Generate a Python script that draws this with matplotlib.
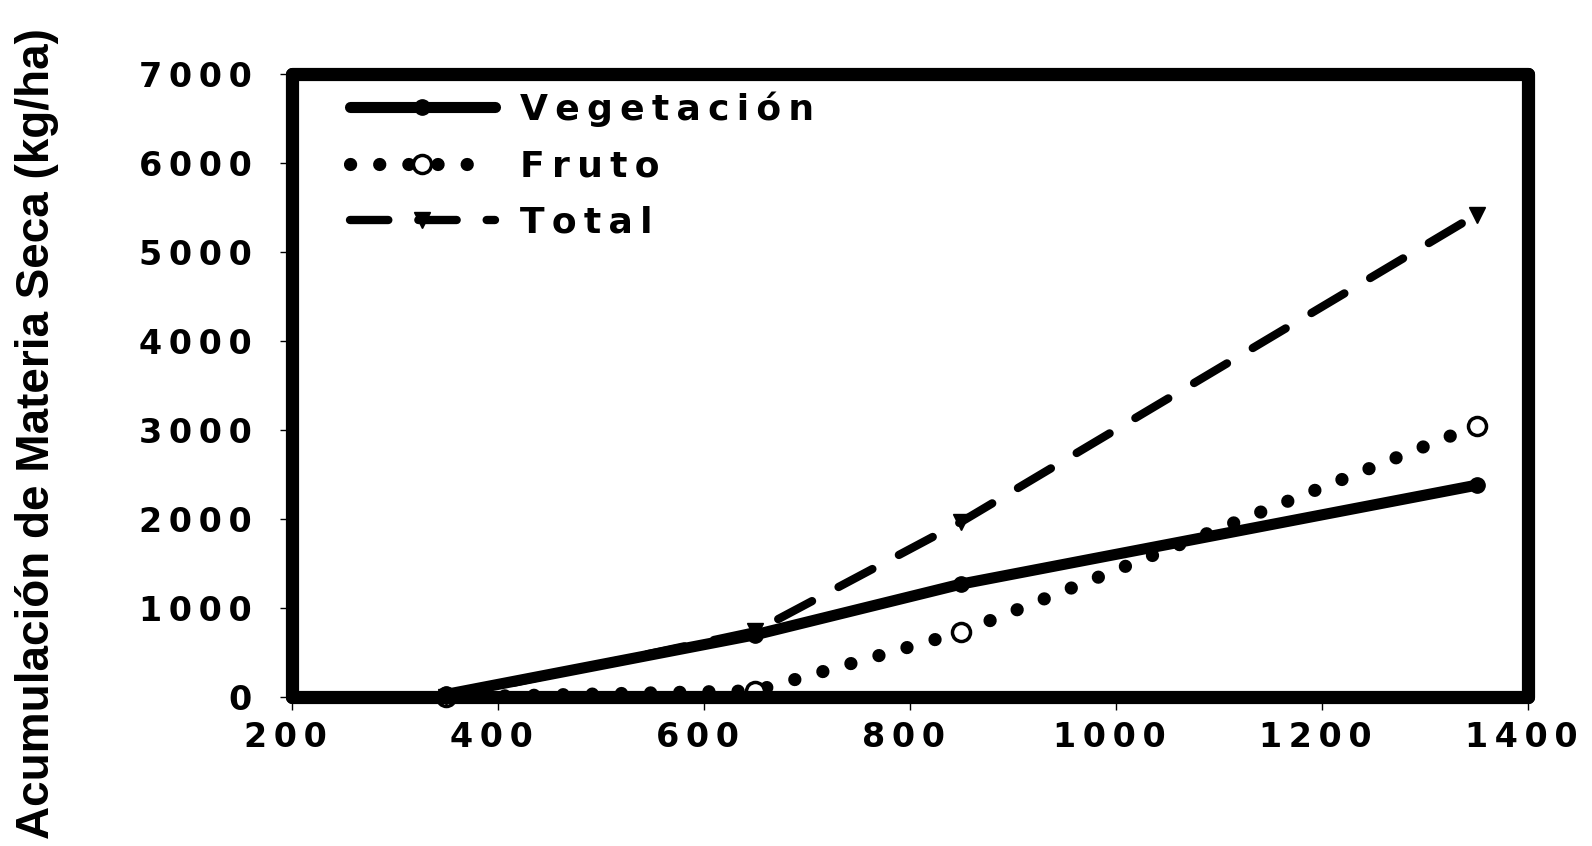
import matplotlib
matplotlib.use("Agg")
import matplotlib.pyplot as plt

# datos
x = [350, 650, 850, 1350]
vegetacion = [30, 700, 1270, 2380]
fruto = [0, 70, 730, 3050]
total = [0, 740, 1970, 5420]

xticks = [200, 400, 600, 800, 1000, 1200, 1400]
yticks = [0, 1000, 2000, 3000, 4000, 5000, 6000, 7000]
labels = ["Vegetación", "Fruto", "Total"]

TS = "\u2009"  # espacio fino entre letras


def spaced(s):
    return TS.join(str(s))


fig = plt.figure(figsize=(15.92, 8.46), dpi=100)
ax = fig.add_axes([0.1834, 0.1761, 0.9598 - 0.1834, 0.9125 - 0.1761])

ax.plot(x, vegetacion, color="black", lw=8, marker="o", ms=11,
        solid_capstyle="round", clip_on=False, label=spaced(labels[0]))
ax.plot(x, fruto, color="black", lw=9.5, linestyle=(0, (0.01, 2.2)),
        dash_capstyle="round", marker="o", ms=13, mfc="white", mec="black",
        mew=2.5, clip_on=False, label=spaced(labels[1]))
ax.plot(x, total, color="black", lw=6, linestyle=(0, (4.6, 3.6)),
        dash_capstyle="round", marker="v", ms=12, clip_on=False,
        label=spaced(labels[2]))

ax.set_xlim(200, 1400)
ax.set_ylim(0, 7000)
ax.set_xticks(xticks)
ax.set_yticks(yticks)
# espacio final: el original deja el numero algo a la izquierda del tick
ax.set_xticklabels([spaced(t) + TS + TS for t in xticks])
ax.set_yticklabels([spaced(t) for t in yticks])

for lab in ax.get_xticklabels() + ax.get_yticklabels():
    lab.set_fontfamily(["DejaVu Sans"])
    lab.set_fontweight("bold")
    lab.set_fontsize(24)

ax.tick_params(axis="y", direction="out", length=9, width=1, pad=20)
ax.tick_params(axis="x", direction="out", length=9, width=1, pad=8)

for sp in ax.spines.values():
    sp.set_linewidth(9.5)
    sp.set_capstyle("round")
    sp.set_joinstyle("round")

fig.text(0.0235, 0.488, "Acumulación de Materia Seca (kg/ha)", fontsize=33,
         fontweight="bold", family=["Liberation Sans", "DejaVu Sans"],
         rotation=90, ha="center", va="center")

leg = ax.legend(loc="upper left", bbox_to_anchor=(0.047, 0.972),
                frameon=False, borderaxespad=0, borderpad=0,
                handlelength=4.0, handletextpad=0.7, labelspacing=0.62,
                prop={"family": "DejaVu Sans", "weight": "bold", "size": 26})

fig.savefig("out.png", dpi=100)
